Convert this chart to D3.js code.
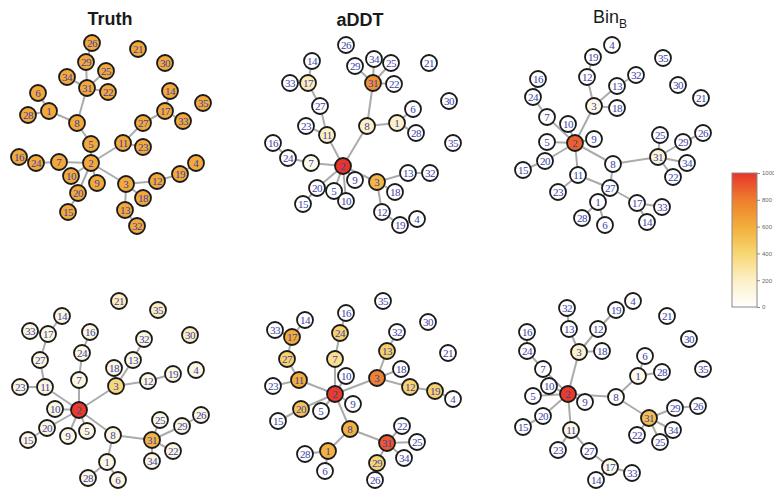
<!DOCTYPE html>
<html><head><meta charset="utf-8">
<script src="https://cdn.jsdelivr.net/npm/d3@7"></script>
<style>body{margin:0;background:#fff}svg{display:block}</style>
</head><body>
<svg id="c" width="774" height="493"></svg>
<script>
// Panel titles
const panelTitles = [
  {main:"Truth", sub:"", bold:true},
  {main:"aDDT", sub:"", bold:true},
  {main:"Bin", sub:"B", bold:false},
  {main:"T", sub:"(10%)", bold:false},
  {main:"eDDT", sub:"", bold:true},
  {main:"Bin", sub:"F", bold:false}
];
// Node layout (layout units) and score: [id, lx, ly, score]
const truthNodes = [[26,92,43],[21,138,49],[29,86,62],[30,165,63],[25,106,71],[34,67,77],[31,87,88],[22,108,92],[14,170,91],[6,38,93],[35,203,103],[1,49,111],[17,165,111],[28,28,115],[33,183,121],[8,77,123],[27,143,123],[5,91,144],[11,123,143],[23,143,147],[16,19,157],[24,36,163],[7,59,162],[2,91,163],[4,196,163],[10,71,176],[19,180,174],[9,97,183],[3,126,184],[12,157,181],[20,78,193],[18,143,198],[13,125,210],[15,68,212],[32,137,226]].map(d=>[...d,620]);
const addtNodes = [[26,106,45,0],[34,134,59,0],[29,115,66,0],[25,151,63,0],[21,189,63,0],[14,72,61,0],[17,68,83,230],[33,50,83,0],[31,133,83,720],[22,154,84,0],[30,209,101,0],[27,80,106,0],[6,173,109,0],[1,157,123,200],[8,127,126,200],[23,66,126,0],[28,176,133,0],[11,87,135,210],[35,213,143,0],[16,33,143,0],[24,48,158,0],[7,71,163,70],[2,103,166,1000],[9,115,180,0],[3,137,182,560],[13,168,173,0],[32,190,173,0],[20,77,188,0],[5,94,191,0],[18,155,192,0],[10,106,201,0],[15,63,204,0],[12,142,212,0],[4,177,219,0],[19,160,225,0]];
const binBNodes = [[4,122,45,0],[19,103,57,0],[35,173,58,0],[12,97,77,0],[32,146,75,0],[16,48,79,0],[13,127,86,0],[30,188,85,0],[24,43,97,0],[21,211,98,0],[3,104,106,90],[18,127,108,0],[7,57,117,0],[10,78,124,0],[26,213,133,0],[25,170,135,0],[29,193,142,0],[5,57,142,0],[2,85,143,880],[9,104,139,0],[31,168,157,150],[20,55,161,0],[34,197,163,0],[8,123,164,0],[15,33,170,0],[11,88,175,0],[22,183,177,0],[27,120,188,0],[23,68,192,0],[1,108,202,0],[17,147,203,0],[33,172,207,0],[28,92,218,0],[6,115,225,0],[14,157,222,0]];
const t10Nodes = [[21,119,58,220],[35,158,67,220],[14,62,73,110],[33,30,88,110],[17,48,91,110],[16,90,89,110],[30,190,92,220],[32,144,96,110],[24,82,110,110],[27,40,117,110],[13,133,117,110],[18,114,125,110],[4,196,127,110],[19,173,131,110],[7,79,137,110],[12,148,138,110],[3,116,143,380],[23,20,144,110],[11,45,144,110],[10,55,166,110],[2,79,167,980],[26,201,172,110],[25,160,177,110],[20,47,185,110],[29,182,183,110],[5,87,188,110],[9,68,193,110],[8,113,192,110],[31,152,197,560],[15,28,197,110],[22,173,208,110],[1,107,219,110],[34,152,218,110],[28,88,235,110],[6,118,237,110]];
const eddtNodes = [[35,143,58,0],[16,106,70,0],[14,65,77,0],[30,188,79,0],[33,35,87,0],[17,52,94,620],[24,100,90,420],[32,157,89,0],[21,208,110,0],[13,147,108,430],[27,47,116,420],[7,95,116,330],[18,161,126,0],[10,106,133,0],[3,137,135,790],[11,59,137,610],[23,33,143,0],[12,170,144,410],[19,195,148,420],[2,95,151,980],[9,113,161,0],[4,213,156,0],[20,61,166,500],[5,81,168,0],[15,38,178,0],[22,162,183,0],[8,110,186,580],[25,177,199,0],[31,147,200,900],[28,65,211,0],[1,88,208,580],[34,164,215,0],[29,137,220,400],[6,85,228,0],[26,135,237,0]];
const binFNodes = [[4,143,58,0],[32,77,65,0],[19,126,67,0],[21,177,73,0],[13,79,86,0],[12,108,86,0],[16,37,89,0],[30,199,96,0],[3,89,109,180],[18,112,108,0],[24,37,108,0],[6,155,113,0],[7,53,126,0],[35,213,126,0],[1,148,133,80],[28,172,129,0],[10,59,143,0],[2,78,151,980],[5,43,153,0],[9,95,159,0],[8,126,154,30],[26,208,163,0],[29,185,165,0],[31,159,175,520],[20,53,173,0],[15,33,184,0],[11,81,187,100],[34,183,187,0],[22,147,192,0],[25,170,199,0],[23,68,207,0],[27,99,208,0],[17,120,224,80],[33,142,230,0],[14,106,237,0]];
// Edges per panel
const truthEdges = [[26,29],[29,31],[34,31],[25,31],[22,31],[31,8],[6,1],[28,1],[1,8],[8,5],[5,2],[14,17],[17,27],[17,33],[27,11],[11,23],[11,2],[16,24],[24,7],[7,2],[10,2],[9,2],[20,2],[20,15],[2,3],[3,12],[12,19],[19,4],[3,18],[3,13],[13,32]];
const addtEdges = [[14,17],[33,17],[17,27],[27,11],[23,11],[11,2],[29,31],[34,31],[25,31],[22,31],[31,8],[8,2],[8,1],[1,6],[1,28],[16,24],[24,7],[7,2],[2,20],[20,15],[2,5],[2,10],[2,9],[2,3],[3,13],[13,32],[3,18],[3,12],[12,19]];
const binBEdges = [[19,12],[12,3],[3,13],[13,32],[3,18],[3,2],[16,24],[24,7],[7,2],[10,2],[5,2],[20,2],[20,15],[9,2],[2,8],[2,11],[8,31],[31,25],[31,29],[31,34],[31,22],[29,26],[8,27],[11,27],[11,23],[27,1],[1,28],[1,6],[27,17],[17,33],[17,14]];
const t10Edges = [[14,17],[33,17],[17,27],[27,11],[11,23],[11,2],[16,24],[24,7],[7,2],[2,3],[3,18],[3,13],[13,32],[3,12],[12,19],[2,10],[2,20],[20,15],[2,9],[2,5],[2,8],[8,31],[31,25],[31,29],[29,26],[31,22],[31,34],[8,1],[1,28],[1,6]];
const eddtEdges = [[33,17],[14,17],[17,27],[27,11],[11,23],[11,2],[16,24],[24,7],[7,2],[10,2],[2,3],[3,13],[13,32],[3,18],[3,12],[12,19],[19,4],[2,9],[2,20],[20,15],[2,5],[2,8],[8,1],[1,28],[1,6],[8,31],[31,22],[31,25],[31,34],[31,29],[29,26]];
const binFEdges = [[32,13],[13,3],[12,3],[19,12],[18,3],[3,2],[16,24],[24,7],[7,2],[10,2],[5,2],[20,2],[20,15],[2,9],[2,8],[2,11],[8,1],[1,6],[1,28],[8,31],[31,29],[31,34],[31,25],[31,22],[29,26],[11,23],[11,27],[27,17],[17,33],[17,14]];
// Color legend
const legendTicks = [0,200,400,600,800,1000];
const colorStops = [0,200,400,600,800,1000];
const colorRange = ["#FFFFFF","#FCF0C6","#F7D672","#F2AE3A","#EE7E2E","#E8342A"];

const panelNodes = [truthNodes, addtNodes, binBNodes, t10Nodes, eddtNodes, binFNodes];
const panelEdges = [truthEdges, addtEdges, binBEdges, t10Edges, eddtEdges, binFEdges];
const panelOrigin = [[0,0],[240,0],[490,0],[0,243],[240,243],[490,243]];
const titleY = [25,26,23,280,284,282];
const titleX = [110,120,120,113,120,120];

const svg = d3.select("#c");
const color = d3.scaleLinear().domain(colorStops).range(colorRange).clamp(true);

panelNodes.forEach((nodes, p) => {
  const [ox, oy] = panelOrigin[p];
  const sx = d3.scaleLinear().domain([0,240]).range([ox, ox+240]);
  const sy = d3.scaleLinear().domain([0,240]).range([oy, oy+240]);
  const g = svg.append("g");
  const byId = new Map(nodes.map(d => [d[0], d]));
  // title
  const t = panelTitles[p];
  const tt = g.append("text")
    .attr("x", sx(titleX[p])).attr("y", sy(titleY[p]))
    .attr("text-anchor","middle")
    .attr("font-family","Liberation Sans, Arial, sans-serif")
    .attr("font-size", 18)
    .attr("font-weight", t.bold ? "bold" : "normal")
    .attr("fill","#1a1a1a");
  tt.append("tspan").text(t.main);
  if (t.sub) tt.append("tspan").attr("font-size", 12).attr("dy", 5).text(t.sub);
  // edges
  g.selectAll("line").data(panelEdges[p]).join("line")
    .attr("x1", d => sx(byId.get(d[0])[1])).attr("y1", d => sy(byId.get(d[0])[2]))
    .attr("x2", d => sx(byId.get(d[1])[1])).attr("y2", d => sy(byId.get(d[1])[2]))
    .attr("stroke","#ABABAB").attr("stroke-width",2);
  // nodes
  const ng = g.selectAll("g.n").data(nodes).join("g").attr("class","n")
    .attr("transform", d => `translate(${sx(d[1])},${sy(d[2])})`);
  ng.append("circle").attr("r",8)
    .attr("fill", d => color(d[3]))
    .attr("stroke","#1a1a1a").attr("stroke-width",1.8);
  ng.append("text").text(d => d[0])
    .attr("text-anchor","middle").attr("dy","0.34em")
    .attr("font-family","Liberation Serif, Times New Roman, serif")
    .attr("font-size", 11)
    .attr("letter-spacing", d => d[0] >= 10 ? "-0.6px" : "0")
    .attr("fill","#3B42A8");
});

// Colorbar
const by = d3.scaleLinear().domain([0,1000]).range([307,173]);
const defs = svg.append("defs");
const grad = defs.append("linearGradient").attr("id","cb").attr("x1",0).attr("y1",1).attr("x2",0).attr("y2",0);
colorStops.forEach((v,i) => grad.append("stop").attr("offset", v/1000).attr("stop-color", colorRange[i]));
svg.append("rect").attr("x",732).attr("y",by(1000)).attr("width",25).attr("height",by(0)-by(1000))
  .attr("fill","url(#cb)").attr("stroke","#8a8a8a").attr("stroke-width",1);
const axis = d3.axisRight(by).tickValues(legendTicks).tickSize(3).tickPadding(2).tickFormat(d3.format("d"));
const ag = svg.append("g").attr("transform","translate(757,0)").call(axis);
ag.select(".domain").remove();
ag.selectAll("line").attr("stroke","#8a8a8a");
ag.selectAll("text").attr("font-size",6).attr("fill","#666").attr("font-family","Liberation Sans, Arial, sans-serif");
</script>
</body></html>
